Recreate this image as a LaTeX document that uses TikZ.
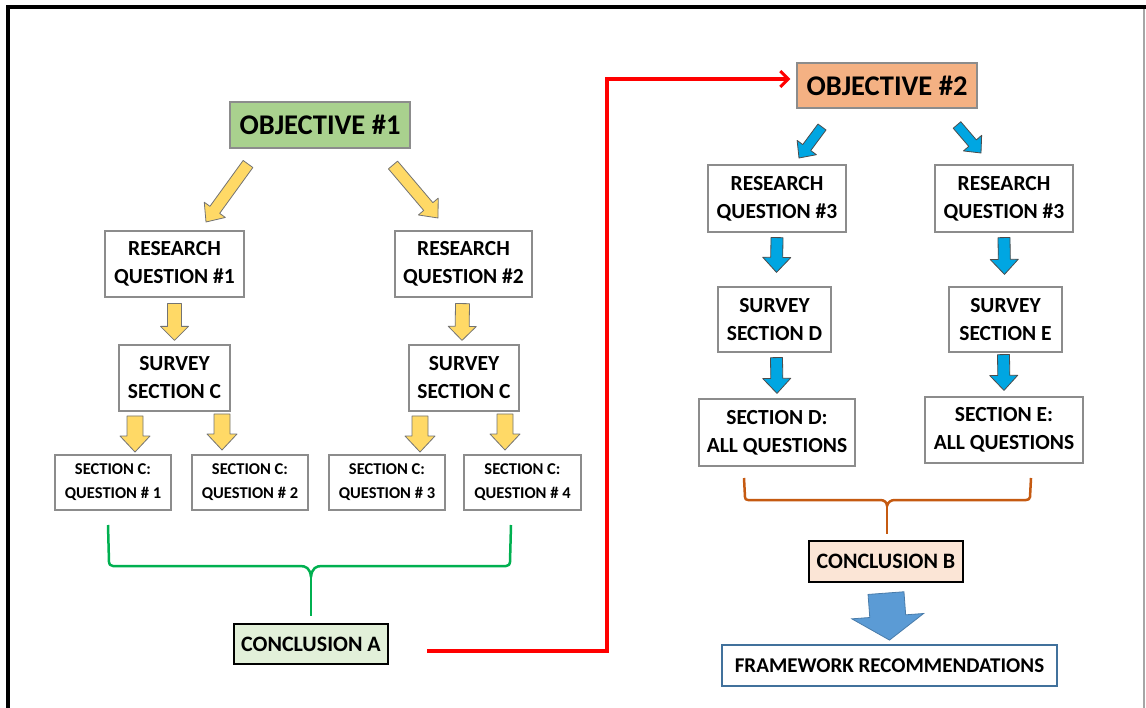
\documentclass[tikz,border=0pt]{standalone}
\usepackage{fontspec}
\setmainfont{Carlito}
\usetikzlibrary{calc,arrows.meta}
\definecolor{objA}{RGB}{169,209,142}
\definecolor{objB}{RGB}{244,177,131}
\definecolor{concA}{RGB}{226,240,217}
\definecolor{concB}{RGB}{251,229,214}
\definecolor{yel}{RGB}{255,217,102}
\definecolor{cyanb}{RGB}{0,166,226}
\definecolor{steel}{RGB}{91,155,213}
\definecolor{frameb}{RGB}{65,113,156}
\definecolor{braceg}{RGB}{0,176,80}
\definecolor{braceo}{RGB}{197,90,17}
\definecolor{boxgray}{RGB}{140,140,140}
\newcommand{\blockarrow}[6]{% style, start, end, shaft half, head half, head length
  \coordinate (ba@a) at #2;
  \coordinate (ba@b) at #3;
  \coordinate (ba@h) at ($(ba@b)!#6pt!(ba@a)$);
  \draw[#1] ($(ba@a)!#4pt!90:(ba@b)$) -- ($(ba@h)!#4pt!-90:(ba@a)$) -- ($(ba@h)!#5pt!-90:(ba@a)$) -- (ba@b)
    -- ($(ba@h)!#5pt!90:(ba@a)$) -- ($(ba@h)!#4pt!90:(ba@a)$) -- ($(ba@a)!#4pt!-90:(ba@b)$) -- cycle;}
\tikzset{
  box/.style={draw=boxgray, line width=1.2pt, fill=white, align=center, font=\bfseries\fontsize{21.5}{28}\selectfont, inner sep=0pt, anchor=center},
  small/.style={box, font=\bfseries\fontsize{16.5}{24}\selectfont},
  obj/.style={draw=boxgray, line width=1.2pt, font=\bfseries\fontsize{28.5}{32}\selectfont, inner sep=0pt},
  conc/.style={draw=black, line width=2.2pt, font=\bfseries\fontsize{22}{24}\selectfont, inner sep=0pt},
  yarrow/.style={fill=yel, draw=gray!90!black, line width=0.8pt, line join=round},
  barrow/.style={fill=cyanb, draw=black!70, line width=0.8pt, line join=round},
  bigarrow/.style={fill=steel, draw=steel!80!black, line width=0.8pt},
}
\begin{document}
\begin{tikzpicture}[x=1pt,y=-1pt]
\useasboundingbox (0,0) rectangle (1146,708);
\fill[white] (0,0) rectangle (1146,708);
% frame
\draw[line width=4pt] (8,708) -- (8,7) -- (1146,7);
\draw[gray!70, line width=1.5pt] (1144,9) -- (1144,708);
% objective 1 side
\node[obj, fill=objA, minimum width=180pt, minimum height=46pt] (o1) at (320,125) {OBJECTIVE \#1};
\node[box, minimum width=139pt, minimum height=66pt] (rq1) at (174.5,264) {RESEARCH\\QUESTION \#1};
\node[box, minimum width=137pt, minimum height=66pt] (rq2) at (463.5,264) {RESEARCH\\QUESTION \#2};
\node[box, minimum width=111pt, minimum height=66pt] (sc1) at (174.5,378) {SURVEY\\SECTION C};
\node[box, minimum width=110pt, minimum height=66pt] (sc2) at (464,378) {SURVEY\\SECTION C};
\node[small, minimum width=116pt, minimum height=55pt] (q1) at (113,482.5) {SECTION C:\\QUESTION \# 1};
\node[small, minimum width=116pt, minimum height=55pt] (q2) at (250,482.5) {SECTION C:\\QUESTION \# 2};
\node[small, minimum width=116pt, minimum height=55pt] (q3) at (387,482.5) {SECTION C:\\QUESTION \# 3};
\node[small, minimum width=117pt, minimum height=55pt] (q4) at (522.5,482.5) {SECTION C:\\QUESTION \# 4};
\node[conc, fill=concA, minimum width=154pt, minimum height=40pt] (ca) at (311,644) {CONCLUSION A};
% objective 2 side
\node[obj, fill=objB, minimum width=180pt, minimum height=45pt] (o2) at (887,85.5) {OBJECTIVE \#2};
\node[box, minimum width=138pt, minimum height=67pt] (rq3) at (777,198.5) {RESEARCH\\QUESTION \#3};
\node[box, minimum width=138pt, minimum height=67pt] (rq4) at (1004,198.5) {RESEARCH\\QUESTION \#3};
\node[box, minimum width=113pt, minimum height=65pt] (sd) at (774.5,319.5) {SURVEY\\SECTION D};
\node[box, minimum width=113pt, minimum height=65pt] (se) at (1005.5,319.5) {SURVEY\\SECTION E};
\node[box, minimum width=156pt, minimum height=67pt] (ad) at (777,432.5) {SECTION D:\\ALL QUESTIONS};
\node[box, minimum width=158pt, minimum height=66pt] (ae) at (1004,430) {SECTION E:\\ALL QUESTIONS};
\node[conc, fill=concB, minimum width=154pt, minimum height=41pt] (cb) at (886,561.5) {CONCLUSION B};
\node[box, draw=frameb, line width=1.8pt, minimum width=335pt, minimum height=41pt, font=\bfseries\fontsize{21}{24}\selectfont] (fr) at (889.5,665.5) {FRAMEWORK RECOMMENDATIONS};
% yellow arrows
\blockarrow{yarrow}{(248,164)}{(206,222)}{6}{13}{15}
\blockarrow{yarrow}{(393,165)}{(438,218)}{6}{13}{15}
\blockarrow{yarrow}{($(rq1.south)+(0,6)$)}{($(sc1.north)+(0,-4)$)}{7}{14}{14}
\blockarrow{yarrow}{($(rq2.south)+(-1,6)$)}{($(sc2.north)+(-2,-4)$)}{7}{14}{14}
\blockarrow{yarrow}{(135,416)}{(135,452)}{8}{15}{16}
\blockarrow{yarrow}{(222,414)}{(222,450)}{8}{15}{16}
\blockarrow{yarrow}{(420,416)}{(420,452)}{8}{15}{16}
\blockarrow{yarrow}{(505,414)}{(505,450)}{8}{15}{16}
% blue arrows
\blockarrow{barrow}{(822,127)}{(799,158)}{5}{12}{13}
\blockarrow{barrow}{(957,125)}{(981,153)}{5}{12}{13}
\blockarrow{barrow}{($(rq3.south)+(0,5)$)}{($(sd.north)+(2,-14)$)}{6}{14}{15}
\blockarrow{barrow}{($(rq4.south)+(0,5)$)}{($(se.north)+(-1,-12)$)}{6}{14}{15}
\blockarrow{barrow}{($(sd.south)+(2,5)$)}{($(ad.north)+(0,-5)$)}{6}{14}{15}
\blockarrow{barrow}{($(se.south)+(-2,2)$)}{($(ae.north)+(0,-6)$)}{6}{14}{15}
\blockarrow{bigarrow}{($(cb.south)+(0,10)$)}{($(fr.north)+(0,-4)$)}{18}{36}{24}
% braces
\draw[braceg, line width=2.5pt, line join=round] (108,525) -- (109,562) .. controls (109,564) and (110,566) .. (113,566)
  -- (300,566) .. controls (306,566) and (310,568) .. (311,577) .. controls (312,568) and (316,566) .. (322,566)
  -- (506,566) .. controls (509,566) and (510,564) .. (510,562) -- (511,525);
\coordinate (bga) at (311,577);
\draw[braceg, line width=2.5pt] (bga) -- ($(ca.north)+(0,-7)$);
\draw[braceo, line width=2.5pt, line join=round] (744,478) -- (745,497) .. controls (745,499) and (746,500) .. (748,500)
  -- (880,500) .. controls (884,500) and (887,502) .. (887,506) .. controls (888,502) and (891,500) .. (895,500)
  -- (1026,500) .. controls (1028,500) and (1030,499) .. (1030,497) -- (1031,478);
\coordinate (bgb) at (887,506);
\draw[braceo, line width=2.5pt] (bgb) -- ($(cb.north)+(1,-6)$);
% red connector
\coordinate (rs) at (427,651);
\draw[red, line width=3.5pt, -{Straight Barb[length=8pt,width=16pt,line width=3pt]}] (rs) -- (607,651) -- (607,79) -- ($(o2.west |- 0,79)+(-6,0)$);
\end{tikzpicture}
\end{document}
